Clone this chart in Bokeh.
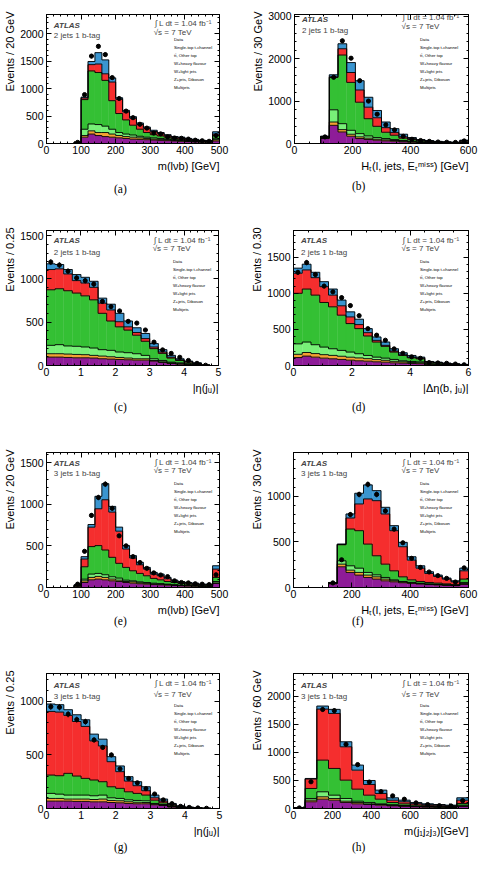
import numpy as np
from bokeh.plotting import figure
from bokeh.layouts import column, row
from bokeh.models import (Range1d, LinearAxis, SingleIntervalTicker, Label, Legend, Title,
                          LegendItem, BasicTickFormatter, CustomJSTickFormatter)
from bokeh.embed import file_html
from bokeh.resources import INLINE

FONT = "Liberation Sans"

# ---------------- data (events per bin) ----------------
# (a) m(lvb), 2 jets 1 b-tag, 20 GeV bins 0-500
a_edges = list(range(0, 520, 20))
a_multijet = [0,0,0,0,15,115,172,145,126,115,103,92,80,75,69,63,57,52,46,40,34,30,25,22,46]
a_zjets    = [0,0,0,0,2,30,58,55,74,57,42,34,35,28,23,17,18,17,11,12,6,5,5,4,23]
a_wlight   = [0,0,0,0,2,115,126,145,116,88,55,46,40,29,23,23,17,11,12,11,12,10,8,8,17]
a_wheavy   = [0,0,0,0,3,540,966,948,834,520,346,258,178,128,85,58,46,35,23,17,11,10,8,8,58]
a_ttbar    = [0,0,0,0,0,30,115,155,120,340,259,145,127,85,76,57,46,29,23,23,17,12,6,6,28]
a_tchan    = [0,0,0,0,0,15,57,207,253,75,28,28,28,29,24,23,16,17,11,12,12,8,5,4,41]
a_data     = [0,0,0,0,20,890,1592,1770,1620,1200,820,590,470,350,280,190,175,120,100,95,80,60,50,40,144]

# (b) HT, 2 jets 1 b-tag, 30 GeV bins 0-600
b_edges = list(range(0, 630, 30))
b_multijet = [0,0,0,117,428,272,171,117,93,78,62,54,39,30,22,16,12,10,8,18]
b_zjets    = [0,0,0,10,78,55,47,39,32,23,24,16,15,10,7,5,4,3,2,5]
b_wlight   = [0,0,0,15,288,140,93,77,54,39,31,23,16,12,8,7,5,4,3,6]
b_wheavy   = [0,0,0,20,762,1618,1129,740,405,265,148,102,55,40,25,20,14,11,8,25]
b_ttbar    = [0,0,0,5,16,148,233,288,272,202,109,62,31,22,15,10,7,6,5,12]
b_tchan    = [0,0,0,4,47,117,234,218,233,171,132,93,62,26,16,12,8,6,4,12]
b_data     = [0,0,0,155,1560,2420,2010,1480,1000,690,440,320,170,100,70,50,35,30,25,60]

# (c) |eta(j_u)|, 2 jets 1 b-tag, 0.25 bins 0-5
c_edges = [i * 0.25 for i in range(21)]
c_multijet = [97,97,93,89,89,86,78,74,70,66,62,62,51,35,23,16,10,6,1,0]
c_zjets    = [39,39,39,39,36,31,31,27,23,20,16,16,7,8,8,5,4,2,0.5,0]
c_wlight   = [97,105,94,94,89,85,74,74,63,62,58,39,20,15,8,10,7,4,1,0]
c_wheavy   = [642,646,638,615,591,557,420,339,291,261,214,163,117,82,47,27,18,11,2,0]
c_ttbar    = [234,230,194,144,148,144,117,128,59,38,31,31,19,16,11,8,5,3,0.5,0]
c_tchan    = [66,50,51,70,66,70,58,66,97,67,55,59,39,27,20,12,7,5,1,0]
c_data     = [1195,1160,1090,1012,980,940,740,680,630,510,490,410,270,180,140,95,58,25,3,0]

# (d) |delta eta(b, j_u)|, 2 jets 1 b-tag, 0.30 bins 0-6
d_edges = [i * 0.3 for i in range(21)]
d_multijet = [110,130,116,102,93,84,74,65,60,51,46,37,33,28,25,12,10,7,5,3]
d_zjets    = [45,50,49,48,47,44,41,40,35,31,26,21,17,14,13,8,6,4,3,2]
d_wlight   = [145,145,123,105,92,81,71,58,44,34,30,26,15,14,12,5,5,3,2,2]
d_wheavy   = [700,734,687,618,581,488,395,348,270,209,163,102,74,51,43,20,15,12,8,5]
d_ttbar    = [278,265,242,219,162,130,92,56,46,23,14,14,10,9,10,5,5,3,2,1]
d_tchan    = [70,79,74,69,84,79,70,74,56,47,46,32,27,23,13,6,5,4,3,2]
d_data     = [1290,1426,1260,1100,1020,940,830,690,510,420,350,230,170,120,100,40,35,30,20,10]

# (e) m(lvb), 3 jets 1 b-tag, 20 GeV bins 0-500
e_edges = list(range(0, 520, 20))
e_multijet = [0,0,0,0,15,60,92,101,92,80,72,60,52,45,40,35,32,28,24,20,18,16,13,13,48]
e_zjets    = [0,0,0,0,3,20,29,32,29,21,16,12,16,12,10,8,7,6,5,4,4,3,3,3,8]
e_wlight   = [0,0,0,0,5,20,40,36,32,28,25,16,12,11,10,9,8,6,5,4,4,3,3,3,16]
e_wheavy   = [0,0,0,0,5,149,330,334,297,233,177,153,121,101,81,57,45,32,26,20,15,13,10,10,49]
e_ttbar    = [0,0,0,0,3,93,233,442,603,543,386,221,153,104,80,52,49,33,16,14,11,10,7,7,100]
e_tchan    = [0,0,0,0,1,28,32,149,193,68,48,41,28,29,20,20,20,16,12,10,8,7,4,4,40]
e_data     = [0,0,0,0,40,434,865,1080,1240,950,620,500,370,300,230,175,150,130,80,60,55,45,40,35,153]

# (f) HT, 3 jets 1 b-tag, 30 GeV bins 0-600
f_edges = list(range(0, 630, 30))
f_multijet = [0,0,0,0,40,227,165,136,110,92,73,62,52,45,38,32,28,24,20,33]
f_zjets    = [0,0,0,0,3,29,25,29,26,25,19,12,8,6,5,4,4,3,2,11]
f_wlight   = [0,0,0,0,5,37,48,47,29,22,18,10,6,5,4,3,3,2,2,11]
f_wheavy   = [0,0,0,0,5,176,403,411,311,209,146,99,51,28,19,16,13,11,8,37]
f_ttbar    = [0,0,0,0,1,3,121,293,495,604,550,440,330,216,146,99,73,52,30,91]
f_tchan    = [0,0,0,0,1,4,44,117,154,110,73,55,48,37,26,18,15,11,11,29]
f_data     = [0,0,0,0,50,304,800,1020,1130,1020,840,640,490,320,220,170,130,100,60,215]

# (g) |eta(j_u)|, 3 jets 1 b-tag, 0.25 bins 0-5
g_edges = [i * 0.25 for i in range(21)]
g_multijet = [69,69,69,66,66,62,62,56,53,47,44,44,35,28,14,8,4,2,0.5,0]
g_zjets    = [25,25,19,22,22,22,26,19,19,16,14,12,6,5,3,2,1,0.5,0.2,0]
g_wlight   = [47,40,37,37,37,35,37,25,22,18,17,16,6,4,3,2,1,0.5,0.3,0]
g_wheavy   = [171,172,203,178,156,147,125,103,94,75,66,53,31,16,10,5,3,1,0.5,0]
g_ttbar    = [594,594,541,509,485,365,334,234,156,100,72,41,22,16,8,4,2,1,0.3,0]
g_tchan    = [69,69,53,63,62,63,63,47,53,41,37,37,25,19,9,4,1,1,0.2,0]
g_data     = [950,945,880,830,810,640,570,500,370,280,240,185,135,80,45,20,10,5,2,0]

# (h) m(j1j2j3), 3 jets 1 b-tag, 60 GeV bins 0-900
h_edges = list(range(0, 960, 60))
h_multijet = [8,119,166,148,107,83,71,59,47,38,30,25,22,18,36]
h_zjets    = [1,29,42,30,23,24,12,12,9,8,6,5,4,4,11]
h_wlight   = [1,30,89,59,48,23,24,12,12,8,6,5,4,4,12]
h_wheavy   = [1,178,563,475,326,214,130,83,39,29,20,15,12,10,30]
h_ttbar    = [0.5,168,907,978,593,338,190,101,41,36,24,18,17,13,59]
h_tchan    = [0.5,10,54,72,89,89,71,59,42,29,21,15,12,10,42]
h_data     = [10,475,1760,1740,1140,780,470,300,225,165,100,70,50,45,140]

# process order: bottom -> top of stack
PROC_COLORS = ["#8e1c98", "#f5a032", "#78f078", "#34c034", "#f52e2e", "#3a95d0"]
PROC_LABELS = ["Multijets", "Z+jets, Diboson", "W+light jets", "W+heavy flavour",
               "tt\u0304, Other top", "Single-top t-channel"]

# ---------------- layout (absolute page pixels) ----------------
ROWS = {1: dict(atlas=19, tag=29.5, lumi=17, sqrts=25.5, data=38.3),
        2: dict(atlas=240, tag=251.7, lumi=240, sqrts=248.3, data=260.7),
        3: dict(atlas=463.3, tag=473.3, lumi=461.7, sqrts=470, data=482.3),
        4: dict(atlas=685, tag=695.7, lumi=683.3, sqrts=693.5, data=704)}

panels = [
    dict(name="(a)", row=1, cell=(0, 0, 240, 215), frame=(43, 7, 219, 143),
         edges=a_edges, comps=[a_multijet, a_zjets, a_wlight, a_wheavy, a_ttbar, a_tchan], data=a_data,
         xr=(0, 500), yr=(0, 2350), xt=(100, 5), yt=(500, 5), tag="2 jets 1 b-tag",
         ylabel="Events / 20 GeV", xlabel="m(l\u03bdb) [GeV]", capx=117, capso=17),
    dict(name="(b)", row=1, cell=(240, 0, 239, 215), frame=(294, 14, 468, 143),
         edges=b_edges, comps=[b_multijet, b_zjets, b_wlight, b_wheavy, b_ttbar, b_tchan], data=b_data,
         xr=(0, 600), yr=(0, 3040), xt=(200, 4), yt=(1000, 5), tag="2 jets 1 b-tag",
         ylabel="Events / 30 GeV", xlabel="H\u209c(l, jets, E\u209c\u1d50\u2071\u02e2\u02e2) [GeV]",
         capx=358, capso=11),
    dict(name="(c)", row=2, cell=(0, 215, 240, 215), frame=(43, 230, 218, 365),
         edges=c_edges, comps=[c_multijet, c_zjets, c_wlight, c_wheavy, c_ttbar, c_tchan], data=c_data,
         xr=(0, 5), yr=(0, 1560), xt=(1, 5), yt=(500, 5), tag="2 jets 1 b-tag",
         ylabel="Events / 0.25", xlabel="|\u03b7(j\u1d64)|", capx=117, capso=9),
    dict(name="(d)", row=2, cell=(240, 215, 239, 215), frame=(293, 230, 468, 365),
         edges=d_edges, comps=[d_multijet, d_zjets, d_wlight, d_wheavy, d_ttbar, d_tchan], data=d_data,
         xr=(0, 6), yr=(0, 1870), xt=(2, 4), yt=(500, 5), tag="2 jets 1 b-tag",
         ylabel="Events / 0.30", xlabel="|\u0394\u03b7(b, j\u1d64)|", capx=358, capso=9),
    dict(name="(e)", row=3, cell=(0, 430, 240, 215), frame=(43, 452, 219, 587),
         edges=e_edges, comps=[e_multijet, e_zjets, e_wlight, e_wheavy, e_ttbar, e_tchan], data=e_data,
         xr=(0, 500), yr=(0, 1620), xt=(100, 5), yt=(500, 5), tag="3 jets 1 b-tag",
         ylabel="Events / 20 GeV", xlabel="m(l\u03bdb) [GeV]", capx=117, capso=-8),
    dict(name="(f)", row=3, cell=(240, 430, 239, 215), frame=(293, 452, 468, 587),
         edges=f_edges, comps=[f_multijet, f_zjets, f_wlight, f_wheavy, f_ttbar, f_tchan], data=f_data,
         xr=(0, 600), yr=(0, 1480), xt=(200, 4), yt=(500, 5), tag="3 jets 1 b-tag",
         ylabel="Events / 30 GeV", xlabel="H\u209c(l, jets, E\u209c\u1d50\u2071\u02e2\u02e2) [GeV]",
         capx=358, capso=-8),
    dict(name="(g)", row=4, cell=(0, 645, 240, 225), frame=(43, 673, 219, 808),
         edges=g_edges, comps=[g_multijet, g_zjets, g_wlight, g_wheavy, g_ttbar, g_tchan], data=g_data,
         xr=(0, 5), yr=(0, 1260), xt=(1, 5), yt=(500, 5), tag="3 jets 1 b-tag",
         ylabel="Events / 0.25", xlabel="|\u03b7(j\u1d64)|", capx=117, capso=2),
    dict(name="(h)", row=4, cell=(240, 645, 239, 225), frame=(293, 673, 468, 808),
         edges=h_edges, comps=[h_multijet, h_zjets, h_wlight, h_wheavy, h_ttbar, h_tchan], data=h_data,
         xr=(0, 900), yr=(0, 2400), xt=(200, 4), yt=(500, 5), tag="3 jets 1 b-tag",
         ylabel="Events / 60 GeV", xlabel="m(j\u2081j\u2082j\u2083)[GeV]", capx=358, capso=2),
]


def style_axis(ax, interval, nminor, labels=True):
    ax.ticker = SingleIntervalTicker(interval=interval, num_minor_ticks=nminor)
    ax.axis_line_color = "black"
    ax.axis_line_width = 1
    ax.major_tick_line_color = "black"
    ax.minor_tick_line_color = "black"
    ax.major_tick_in = 5
    ax.major_tick_out = 0
    ax.minor_tick_in = 2
    ax.minor_tick_out = 0
    ax.axis_label = None
    if labels:
        ax.formatter = BasicTickFormatter(use_scientific=False)
        ax.major_label_text_font = FONT
        ax.major_label_text_font_size = "10.5px"
        ax.major_label_text_color = "black"
    else:
        ax.formatter = CustomJSTickFormatter(code="return ''")
        ax.major_label_text_font_size = "0px"
        ax.major_label_standoff = 0


def make_panel(cfg):
    L, T, R, B = cfg["frame"]
    X0, Y0, W, H = cfg["cell"]
    x0, x1 = cfg["xr"]
    y0, y1 = cfg["yr"]
    p = figure(width=W, height=H, x_range=Range1d(x0, x1), y_range=Range1d(y0, y1),
               output_backend="svg", toolbar_location=None,
               min_border_left=L - X0, min_border_right=X0 + W - R,
               min_border_top=T - Y0, min_border_bottom=Y0 + H - B,
               background_fill_color="white", border_fill_color="white")
    p.outline_line_color = "black"
    p.outline_line_width = 1
    p.xgrid.visible = False
    p.ygrid.visible = False

    def D(X, Y):
        return (x0 + (X - L) / (R - L) * (x1 - x0), y0 + (B - Y) / (B - T) * (y1 - y0))

    xa = p.below[0]
    ya = p.left[0]
    style_axis(xa, *cfg["xt"])
    style_axis(ya, *cfg["yt"])
    xa.major_label_standoff = 2
    ya.major_label_standoff = 3

    top_ax = LinearAxis()
    style_axis(top_ax, *cfg["xt"], labels=False)
    p.add_layout(top_ax, "above")
    right_ax = LinearAxis()
    style_axis(right_ax, *cfg["yt"], labels=False)
    p.add_layout(right_ax, "right")

    # axis titles (right / top aligned, ROOT style)
    p.add_layout(Title(text=cfg["xlabel"], align="right", offset=0, standoff=2,
                       text_font=FONT, text_font_size="11px", text_font_style="normal",
                       text_color="black"), "below")
    p.add_layout(Title(text=cfg["ylabel"], align="right", offset=-3, standoff=3,
                       text_font=FONT, text_font_size="11px", text_font_style="normal",
                       text_color="black"), "left")

    # stacked histogram
    edges = np.array(cfg["edges"], dtype=float)
    left, right = edges[:-1], edges[1:]
    cum = np.zeros(len(left))
    levels = []
    for comp, color in zip(cfg["comps"], PROC_COLORS):
        top = cum + np.array(comp, dtype=float)
        p.quad(left=left, right=right, bottom=cum, top=top,
               fill_color=color, line_color=color, line_width=0.4)
        levels.append(top)
        cum = top
    for lev in levels:
        p.step(x=edges, y=np.append(lev, lev[-1]), mode="after",
               line_color="black", line_width=0.9)

    # data points
    d = np.array(cfg["data"], dtype=float)
    centers = 0.5 * (left + right)
    m = d > 0
    err = np.sqrt(d[m])
    p.segment(x0=centers[m], y0=d[m] - err, x1=centers[m], y1=d[m] + err,
              line_color="black", line_width=0.8)
    p.scatter(x=centers[m], y=d[m], size=4.2, color="black")

    # text inside the frame
    rw = ROWS[cfg["row"]]
    ax_, ay_ = D(L + 7.5, rw["atlas"])
    p.add_layout(Label(x=ax_, y=ay_, text="ATLAS", text_font=FONT, text_font_size="8px",
                       text_font_style="bold italic", text_baseline="middle", text_align="left"))
    tx, ty = D(L + 7.5, rw["tag"])
    p.add_layout(Label(x=tx, y=ty, text=cfg["tag"], text_font=FONT, text_font_size="8px",
                       text_baseline="middle", text_align="left"))
    lx, ly = D(R - 66, rw["lumi"])
    p.add_layout(Label(x=lx, y=ly, text="\u222b L dt = 1.04 fb\u207b\u00b9", text_font=FONT,
                       text_font_size="8px", text_baseline="middle", text_align="left"))
    sx_, sy_ = D(R - 67, rw["sqrts"])
    p.add_layout(Label(x=sx_, y=sy_, text="\u221as = 7 TeV", text_font=FONT,
                       text_font_size="8px", text_baseline="middle", text_align="left"))

    # caption below the axis title
    p.add_layout(Title(text=cfg["name"], align="left", offset=cfg["capx"] - L - 6.5,
                       standoff=cfg["capso"], text_font="Liberation Serif",
                       text_font_size="11.5px", text_font_style="normal", text_color="black"),
                 "below")

    # legend
    items = []
    rd = p.scatter(x=[], y=[], size=3, color="black")
    items.append(LegendItem(label="Data", renderers=[rd]))
    for color, label in list(zip(PROC_COLORS, PROC_LABELS))[::-1]:
        rq = p.quad(left=[], right=[], bottom=[], top=[], fill_color=color,
                    line_color="black", line_width=0.6)
        items.append(LegendItem(label=label, renderers=[rq]))
    pitch = 8
    leg_top = rw["data"] + 1.0 - 2.5
    leg_h = 7 * 5 + 6 * (pitch - 5)
    leg = Legend(items=items, location=(R - 63 - L, B - (leg_top + leg_h)),
                 orientation="vertical", glyph_width=13, glyph_height=5, label_height=5,
                 spacing=pitch - 5, padding=0, margin=0, label_standoff=2,
                 label_text_font=FONT, label_text_font_size="4.3px", label_text_color="black",
                 border_line_color=None, background_fill_alpha=0)
    p.add_layout(leg)
    return p


figs = [make_panel(c) for c in panels]
layout = column(row(figs[0], figs[1]), row(figs[2], figs[3]),
                row(figs[4], figs[5]), row(figs[6], figs[7]))

open("out.html", "w").write(file_html(layout, INLINE))
